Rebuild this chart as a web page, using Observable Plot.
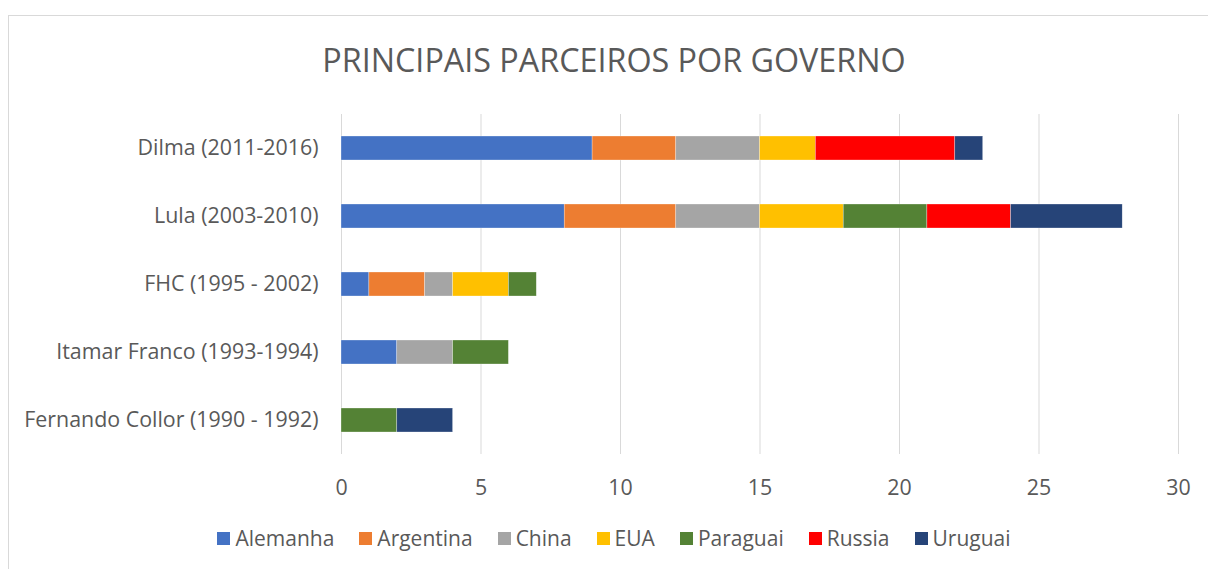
<!DOCTYPE html>
<html>
<head>
<meta charset="utf-8">
<script src="https://cdn.jsdelivr.net/npm/d3@7"></script>
<script src="https://cdn.jsdelivr.net/npm/@observablehq/plot@0.6"></script>
<style>
  html, body { margin: 0; padding: 0; background: #fff; }
  body { width: 1208px; height: 569px; overflow: hidden; position: relative; font-family: "Open Sans", sans-serif; color: #595959; }
  #frame { position: absolute; left: 8px; top: 15px; width: 1210px; height: 570px; border: 1px solid #d9d9d9; box-sizing: border-box; }
  #title { position: absolute; left: 0; width: 1228px; top: 38px; text-align: center; font-size: 32.3px; color: #595959; line-height: 1.3; }
  #chart { position: absolute; left: 0; top: 0; }
  #legend { position: absolute; left: 0; width: 1228px; top: 525px; display: flex; justify-content: center; gap: 25px; font-size: 21px; color: #595959; line-height: 1.3; }
  .item { display: flex; align-items: center; gap: 5px; }
  .sw { width: 13px; height: 13px; display: inline-block; }
</style>
</head>
<body>
<div id="frame"></div>
<div id="title">PRINCIPAIS PARCEIROS POR GOVERNO</div>
<div id="chart"></div>
<div id="legend"></div>
<script>
const governos = ["Dilma (2011-2016)", "Lula (2003-2010)", "FHC (1995 - 2002)", "Itamar Franco (1993-1994)", "Fernando Collor (1990 - 1992)"];
const parceiros = ["Alemanha", "Argentina", "China", "EUA", "Paraguai", "Russia", "Uruguai"];
const cores = ["#4472C4", "#ED7D31", "#A5A5A5", "#FFC000", "#548235", "#FF0000", "#264478"];
// values per parceiro, in order of governos
const alemanha  = [9, 8, 1, 2, 0];
const argentina = [3, 4, 2, 0, 0];
const china     = [3, 3, 1, 2, 0];
const eua       = [2, 3, 2, 0, 0];
const paraguai  = [0, 3, 1, 2, 2];
const russia    = [5, 3, 0, 0, 0];
const uruguai   = [1, 4, 0, 0, 2];
const xTicks = [0, 5, 10, 15, 20, 25, 30];

const series = [alemanha, argentina, china, eua, paraguai, russia, uruguai];
const data = [];
governos.forEach((g, gi) => {
  parceiros.forEach((p, pi) => {
    const v = series[pi][gi];
    if (v > 0) data.push({governo: g, parceiro: p, valor: v});
  });
});

const chart = Plot.plot({
  width: 1208,
  height: 510,
  marginTop: 114,
  marginBottom: 56,
  marginLeft: 341,
  marginRight: 30,
  style: {fontFamily: "Open Sans, sans-serif", fontSize: "21.4px", color: "#595959", background: "transparent"},
  x: {domain: [0, 30], ticks: xTicks, label: null},
  y: {domain: governos, paddingInner: 0.65, paddingOuter: 0.325, label: null},
  color: {domain: parceiros, range: cores},
  marks: [
    Plot.ruleX(xTicks, {stroke: "#d9d9d9", strokeWidth: 1}),
    Plot.barX(data, Plot.stackX({x: "valor", y: "governo", fill: "parceiro", order: parceiros, stroke: "#ffffff", strokeWidth: 0.5, strokeOpacity: 0.6})),
    Plot.axisX({ticks: xTicks, tickSize: 0, tickPadding: 25, fill: "#595959", label: null}),
    Plot.axisY({tickSize: 0, tickPadding: 23, fill: "#595959", label: null})
  ]
});
document.getElementById("chart").appendChild(chart);

const legend = document.getElementById("legend");
parceiros.forEach((p, i) => {
  const it = document.createElement("span");
  it.className = "item";
  it.innerHTML = `<span class="sw" style="background:${cores[i]}"></span><span>${p}</span>`;
  legend.appendChild(it);
});
</script>
</body>
</html>
